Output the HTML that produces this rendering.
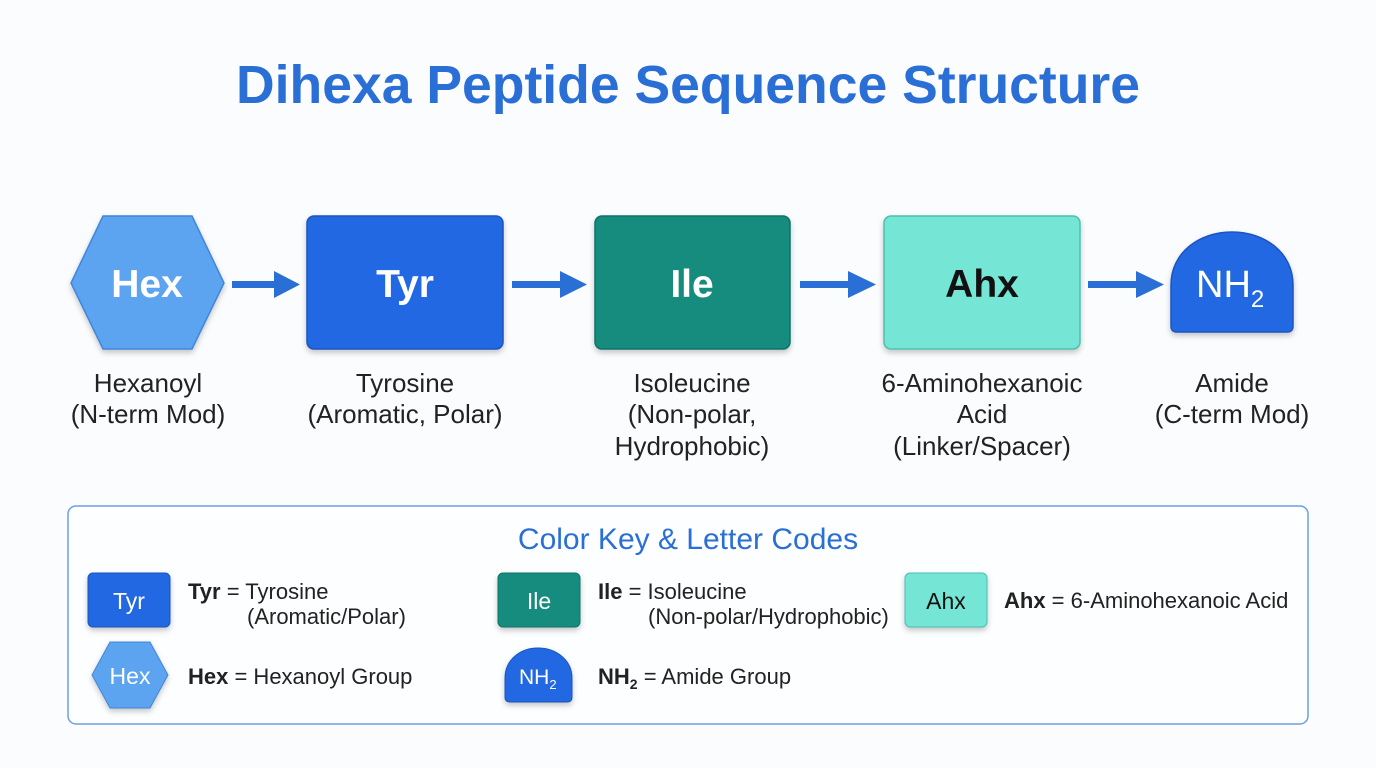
<!DOCTYPE html>
<html><head><meta charset="utf-8"><style>
html,body{margin:0;padding:0;background:#fbfcfe;}
svg{display:block;font-family:"Liberation Sans",sans-serif;}
</style></head><body>
<svg width="1376" height="768" viewBox="0 0 1376 768">
<defs>
<filter id="sh" x="-20%" y="-20%" width="140%" height="150%"><feDropShadow dx="0" dy="3" stdDeviation="3" flood-color="#000" flood-opacity="0.22"/></filter>
</defs>
<rect width="1376" height="768" fill="#fbfcfe"/>
<text x="688" y="103" text-anchor="middle" font-size="54" font-weight="bold" fill="#2a6fd6" textLength="904" lengthAdjust="spacingAndGlyphs">Dihexa Peptide Sequence Structure</text>

<!-- main nodes -->
<polygon points="103,216 192,216 224,283 192,349 103,349 71,283" fill="#5ca3f0" stroke="#3f86dc" stroke-width="1.5" filter="url(#sh)"/>
<text x="147" y="297" text-anchor="middle" font-size="39" font-weight="bold" fill="#fff">Hex</text>
<rect x="307" y="216" width="196" height="133" rx="7" fill="#2368e2" stroke="#1a55c0" stroke-width="1.5" filter="url(#sh)"/>
<text x="405" y="297" text-anchor="middle" font-size="39" font-weight="bold" fill="#fff">Tyr</text>
<rect x="595" y="216" width="195" height="133" rx="7" fill="#138c7e" stroke="#0e7367" stroke-width="1.5" filter="url(#sh)"/>
<text x="692" y="297" text-anchor="middle" font-size="39" font-weight="bold" fill="#fff">Ile</text>
<rect x="884" y="216" width="196" height="133" rx="7" fill="#74e6d5" stroke="#4dbfae" stroke-width="1.5" filter="url(#sh)"/>
<text x="982" y="297" text-anchor="middle" font-size="39" font-weight="bold" fill="#111">Ahx</text>
<path d="M1171,326 V285 C1171,252 1200,232 1232,232 C1264,232 1293,252 1293,285 V326 Q1293,332 1287,332 H1177 Q1171,332 1171,326 Z" fill="#2368e2" stroke="#1a55c0" stroke-width="1.5" filter="url(#sh)"/>
<text x="1196" y="297" font-size="38" fill="#fff">NH<tspan font-size="24" dy="10">2</tspan></text>

<!-- arrows -->
<g fill="#2a6fd6">
<rect x="232" y="281" width="44" height="7"/><polygon points="274,271 300,284.5 274,298"/>
<rect x="512" y="281" width="50" height="7"/><polygon points="560,271 587,284.5 560,298"/>
<rect x="800" y="281" width="50" height="7"/><polygon points="848,271 876,284.5 848,298"/>
<rect x="1088" y="281" width="50" height="7"/><polygon points="1136,271 1164,284.5 1136,298"/>
</g>

<!-- labels -->
<g font-size="26" fill="#222" text-anchor="middle">
<text x="148" y="392">Hexanoyl</text><text x="148" y="423">(N-term Mod)</text>
<text x="405" y="392">Tyrosine</text><text x="405" y="423">(Aromatic, Polar)</text>
<text x="692" y="392">Isoleucine</text><text x="692" y="423">(Non-polar,</text><text x="692" y="455">Hydrophobic)</text>
<text x="982" y="392">6-Aminohexanoic</text><text x="982" y="423">Acid</text><text x="982" y="455">(Linker/Spacer)</text>
<text x="1232" y="392">Amide</text><text x="1232" y="423">(C-term Mod)</text>
</g>

<!-- legend -->
<rect x="68" y="506" width="1240" height="218" rx="8" fill="#fdfeff" stroke="#6d9fe0" stroke-width="1.5"/>
<text x="688" y="549" text-anchor="middle" font-size="30" fill="#2a6fd6">Color Key &amp; Letter Codes</text>

<rect x="88" y="573" width="82" height="54" rx="5" fill="#2368e2" stroke="#1a55c0" filter="url(#sh)"/>
<text x="129" y="609" text-anchor="middle" font-size="23" fill="#fff">Tyr</text>
<text x="188" y="599" font-size="22" fill="#222"><tspan font-weight="bold">Tyr</tspan> = Tyrosine</text>
<text x="247" y="624" font-size="22" fill="#222">(Aromatic/Polar)</text>

<rect x="498" y="573" width="82" height="54" rx="5" fill="#138c7e" stroke="#0e7367" filter="url(#sh)"/>
<text x="539" y="609" text-anchor="middle" font-size="23" fill="#fff">Ile</text>
<text x="598" y="599" font-size="22" fill="#222"><tspan font-weight="bold">Ile</tspan> = Isoleucine</text>
<text x="648" y="624" font-size="22" fill="#222">(Non-polar/Hydrophobic)</text>

<rect x="905" y="573" width="82" height="54" rx="5" fill="#74e6d5" stroke="#4dbfae" filter="url(#sh)"/>
<text x="946" y="609" text-anchor="middle" font-size="23" fill="#111">Ahx</text>
<text x="1004" y="608" font-size="22" fill="#222"><tspan font-weight="bold">Ahx</tspan> = 6-Aminohexanoic Acid</text>

<polygon points="110,642 150,642 168,675 150,708 110,708 92,675" fill="#5ca3f0" stroke="#3f86dc" filter="url(#sh)"/>
<text x="130" y="684" text-anchor="middle" font-size="23" fill="#fff">Hex</text>
<text x="188" y="684" font-size="22" fill="#222"><tspan font-weight="bold">Hex</tspan> = Hexanoyl Group</text>

<path d="M505,697 V678 C505,660 520,648 538,648 C556,648 572,660 572,678 V697 Q572,702 567,702 H510 Q505,702 505,697 Z" fill="#2368e2" stroke="#1a55c0" filter="url(#sh)"/>
<text x="519" y="684" font-size="21" fill="#fff">NH<tspan font-size="13" dy="5">2</tspan></text>
<text x="598" y="684" font-size="22" fill="#222"><tspan font-weight="bold">NH<tspan font-size="14" dy="5">2</tspan></tspan><tspan dy="-5"> = Amide Group</tspan></text>
</svg>
</body></html>
